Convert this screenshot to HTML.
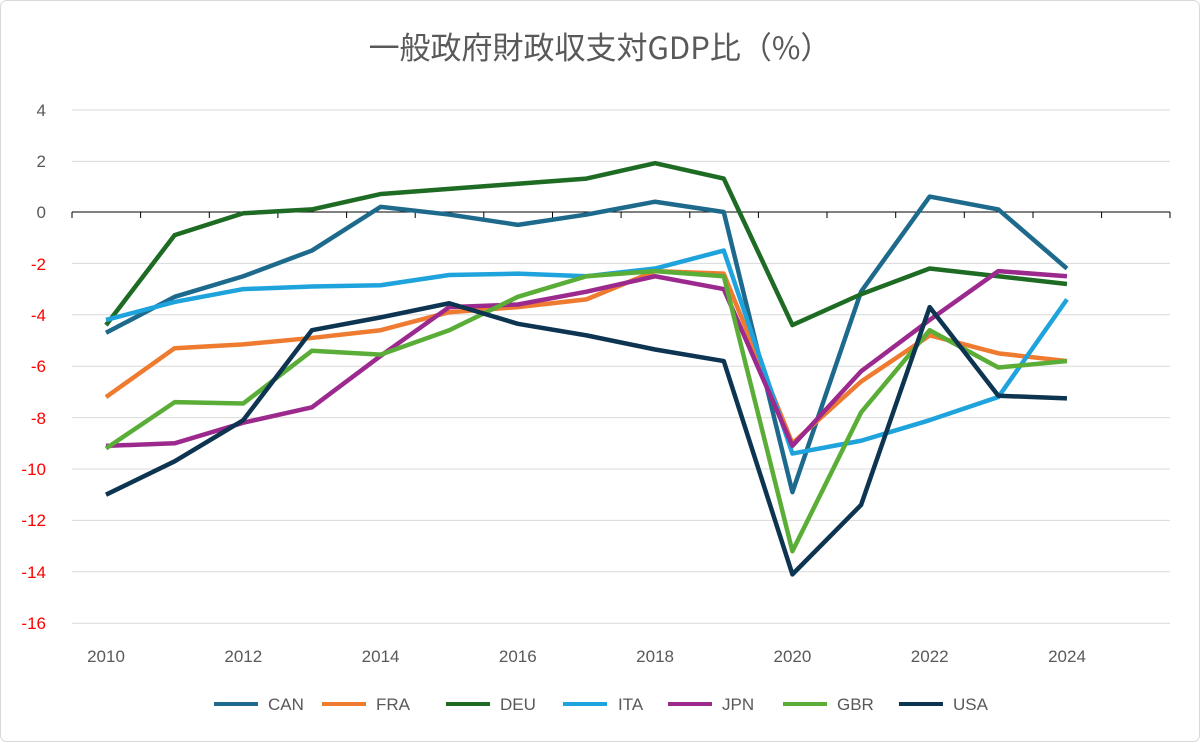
<!DOCTYPE html>
<html><head><meta charset="utf-8"><style>
body{margin:0;background:#fff}
svg{display:block}
text{font-family:"Liberation Sans","Noto Sans CJK JP",sans-serif}
</style></head><body>
<svg width="1200" height="742" viewBox="0 0 1200 742">
<rect x="0.5" y="0.5" width="1199" height="741" rx="6" fill="#fff" stroke="#d9d9d9"/>
<text x="600" y="59" text-anchor="middle" font-size="31" fill="#595959" style="font-family:'Noto Sans CJK JP',sans-serif">一般政府財政収支対GDP比（%）</text>
<g stroke="#d9d9d9" stroke-width="1">
<line x1="72" x2="1170" y1="110" y2="110"/><line x1="72" x2="1170" y1="161.4" y2="161.4"/>
<line x1="72" x2="1170" y1="263.4" y2="263.4"/><line x1="72" x2="1170" y1="314.8" y2="314.8"/>
<line x1="72" x2="1170" y1="366.2" y2="366.2"/><line x1="72" x2="1170" y1="417.6" y2="417.6"/>
<line x1="72" x2="1170" y1="469" y2="469"/><line x1="72" x2="1170" y1="520.4" y2="520.4"/>
<line x1="72" x2="1170" y1="571.8" y2="571.8"/><line x1="72" x2="1170" y1="623.2" y2="623.2"/>
</g>
<g stroke="#000" stroke-width="1">
<line x1="72" x2="1170" y1="212" y2="212"/>
<path d="M72 212v6M140.6 212v6M209.3 212v6M277.9 212v6M346.6 212v6M415.2 212v6M483.8 212v6M552.5 212v6M621.1 212v6M689.8 212v6M758.4 212v6M827 212v6M895.7 212v6M964.3 212v6M1033 212v6M1101.6 212v6M1170 212v6"/>
</g>
<g font-size="17" text-anchor="end">
<text x="46" y="116" fill="#595959">4</text><text x="46" y="167" fill="#595959">2</text><text x="46" y="218" fill="#595959">0</text>
<text x="46" y="270" fill="#f00">-2</text><text x="46" y="321" fill="#f00">-4</text><text x="46" y="372" fill="#f00">-6</text>
<text x="46" y="424" fill="#f00">-8</text><text x="46" y="475" fill="#f00">-10</text><text x="46" y="526" fill="#f00">-12</text>
<text x="46" y="578" fill="#f00">-14</text><text x="46" y="629" fill="#f00">-16</text>
</g>
<g font-size="17" fill="#595959" text-anchor="middle">
<text x="106" y="662">2010</text><text x="243.3" y="662">2012</text><text x="380.6" y="662">2014</text><text x="517.8" y="662">2016</text>
<text x="655.1" y="662">2018</text><text x="792.4" y="662">2020</text><text x="929.7" y="662">2022</text><text x="1067" y="662">2024</text>
</g>
<g transform="translate(106,212) scale(68.64,-25.7)" fill="none" stroke-width="4.5" stroke-linejoin="round">
<polyline vector-effect="non-scaling-stroke" stroke="#1d6a8d" points="0,-4.7 1,-3.3 2,-2.5 3,-1.5 4,0.2 5,-0.1 6,-0.5 7,-0.1 8,0.4 9,0 10,-10.9 11,-3.1 12,0.6 13,0.1 14,-2.2"/>
<polyline vector-effect="non-scaling-stroke" stroke="#ee7b30" points="0,-7.2 1,-5.3 2,-5.15 3,-4.9 4,-4.6 5,-3.9 6,-3.7 7,-3.4 8,-2.3 9,-2.4 10,-9.0 11,-6.6 12,-4.8 13,-5.5 14,-5.8"/>
<polyline vector-effect="non-scaling-stroke" stroke="#1e6b24" points="0,-4.4 1,-0.9 2,-0.05 3,0.1 4,0.7 5,0.9 6,1.1 7,1.3 8,1.9 9,1.3 10,-4.4 11,-3.2 12,-2.2 13,-2.5 14,-2.8"/>
<polyline vector-effect="non-scaling-stroke" stroke="#1fa3dc" points="0,-4.2 1,-3.5 2,-3.0 3,-2.9 4,-2.85 5,-2.45 6,-2.4 7,-2.5 8,-2.2 9,-1.5 10,-9.4 11,-8.9 12,-8.1 13,-7.2 14,-3.4"/>
<polyline vector-effect="non-scaling-stroke" stroke="#9c2a8e" points="0,-9.1 1,-9.0 2,-8.2 3,-7.6 4,-5.6 5,-3.7 6,-3.6 7,-3.1 8,-2.5 9,-3.0 10,-9.1 11,-6.2 12,-4.2 13,-2.3 14,-2.5"/>
<polyline vector-effect="non-scaling-stroke" stroke="#5aad37" points="0,-9.2 1,-7.4 2,-7.45 3,-5.4 4,-5.55 5,-4.6 6,-3.3 7,-2.5 8,-2.3 9,-2.5 10,-13.2 11,-7.8 12,-4.6 13,-6.05 14,-5.8"/>
<polyline vector-effect="non-scaling-stroke" stroke="#0d3450" points="0,-11.0 1,-9.7 2,-8.1 3,-4.6 4,-4.1 5,-3.55 6,-4.35 7,-4.8 8,-5.35 9,-5.8 10,-14.1 11,-11.4 12,-3.7 13,-7.15 14,-7.25"/>
</g>
<g stroke-width="4" font-size="17" fill="#595959">
<line x1="214" x2="258" y1="704" y2="704" stroke="#1d6a8d"/><text x="268" y="710">CAN</text>
<line x1="322" x2="366" y1="704" y2="704" stroke="#ee7b30"/><text x="376" y="710">FRA</text>
<line x1="446" x2="490" y1="704" y2="704" stroke="#1e6b24"/><text x="500" y="710">DEU</text>
<line x1="563" x2="607" y1="704" y2="704" stroke="#1fa3dc"/><text x="618" y="710">ITA</text>
<line x1="668" x2="712" y1="704" y2="704" stroke="#9c2a8e"/><text x="722" y="710">JPN</text>
<line x1="783" x2="827" y1="704" y2="704" stroke="#5aad37"/><text x="837" y="710">GBR</text>
<line x1="899" x2="943" y1="704" y2="704" stroke="#0d3450"/><text x="953" y="710">USA</text>
</g>
</svg>
</body></html>
